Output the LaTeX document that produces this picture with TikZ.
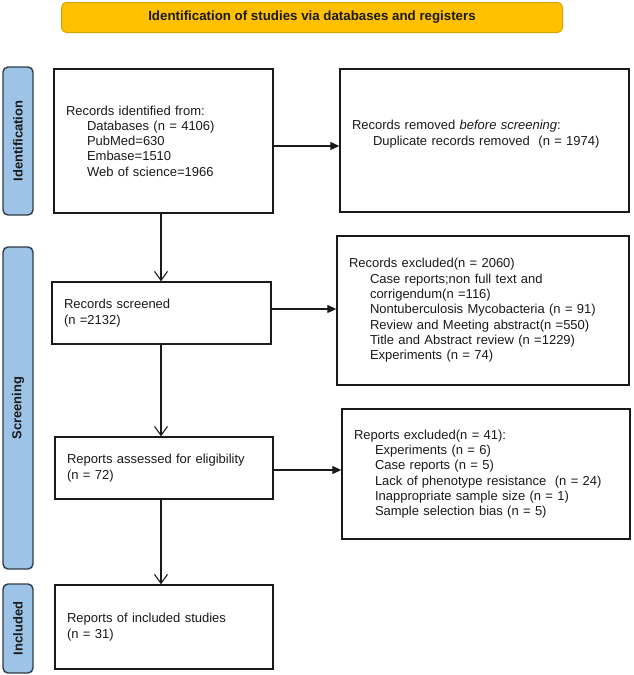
\documentclass[tikz,border=0pt]{standalone}
\usepackage{fontspec}
\setmainfont{Liberation Sans}
\usetikzlibrary{arrows.meta}
\definecolor{bannerfill}{HTML}{FFC000}
\definecolor{bannerdraw}{HTML}{D9A400}
\definecolor{barfill}{HTML}{9DC3E6}
\definecolor{bardraw}{HTML}{2F3B48}
\definecolor{ink}{HTML}{1A1A1A}
\tikzset{
  box/.style={draw=ink, line width=1.4pt, fill=white, inner xsep=12pt, inner ysep=0pt,
    align=left, font=\fontsize{13}{15.3}\selectfont, text=ink},
  banner/.style={draw=bannerdraw, line width=1pt, fill=bannerfill, rounded corners=5pt,
    font=\fontsize{13.3}{15}\selectfont\bfseries, text=ink},
  sidebar/.style={draw=bardraw, line width=1.4pt, fill=barfill, rounded corners=5pt,
    rotate=90, minimum height=30pt, inner sep=0pt,
    font=\fontsize{13}{15}\selectfont\bfseries, text=ink},
  harrow/.style={draw=ink, line width=1.2pt, -{Triangle[length=9pt,width=8pt]}},
  varrow/.style={draw=ink, line width=1.1pt, -{Straight Barb[length=9pt,width=13pt]}}
}
\newcommand{\ind}{\hspace*{21pt}}
\begin{document}
\begin{tikzpicture}[x=1pt,y=-1pt]
\useasboundingbox (0,0) rectangle (633,675);
\node[banner, minimum width=501pt, minimum height=30pt] (banner) at (312,17.5)
  {Identification of studies via databases and registers};
\node[sidebar, minimum width=148pt] (idbar) at (18,141) {Identification};
\node[sidebar, minimum width=322pt] (scbar) at (18,408) {Screening};
\node[sidebar, minimum width=89pt] (inbar) at (18,628.5) {Included};

\node[box, text width=195pt, minimum height=144pt] (ident) at (163.5,141)
  {Records identified from:\\\ind Databases (n = 4106)\\\ind PubMed=630\\\ind Embase=1510\\\ind Web of science=1966};
\node[box, text width=265pt, minimum height=143pt] (rem) at (484.5,140.5)
  {Records removed \textit{before screening}:\\\ind Duplicate records removed~ (n = 1974)\\\mbox{}};
\node[box, text width=195pt, minimum height=62pt] (scr) at (161.5,313)
  {Records screened\\(n =2132)};
\node[box, text width=268pt, minimum height=149pt] (excl) at (483,310.5)
  {Records excluded(n = 2060)\\\ind Case reports;non full text and\\\ind corrigendum(n =116)\\\ind Nontuberculosis Mycobacteria (n = 91)\\\ind Review and Meeting abstract(n =550)\\\ind Title and Abstract review (n =1229)\\\ind Experiments (n = 74)};
\node[box, text width=194pt, minimum height=62pt] (elig) at (164,468)
  {Reports assessed for eligibility\\(n = 72)};
\node[box, text width=264pt, minimum height=130pt] (rexcl) at (486,474)
  {Reports excluded(n = 41):\\\ind Experiments (n = 6)\\\ind Case reports (n = 5)\\\ind Lack of phenotype resistance~ (n = 24)\\\ind Inappropriate sample size (n = 1)\\\ind Sample selection bias (n = 5)};
\node[box, text width=194pt, minimum height=84pt] (incl) at (164,627)
  {Reports of included studies\\(n = 31)};

\coordinate (vx) at (161,0);
\draw[harrow] ([yshift=-5pt]ident.east) -- ([yshift=-5pt]ident.east -| rem.west);
\draw[harrow] ([yshift=4pt]scr.east) -- ([yshift=4pt]scr.east -| excl.west);
\draw[harrow] ([yshift=-2pt]elig.east) -- ([yshift=-2pt]elig.east -| rexcl.west);
\draw[varrow] (ident.south -| vx) -- (scr.north -| vx);
\draw[varrow] (scr.south -| vx) -- (elig.north -| vx);
\draw[varrow] (elig.south -| vx) -- (incl.north -| vx);
\end{tikzpicture}
\end{document}
